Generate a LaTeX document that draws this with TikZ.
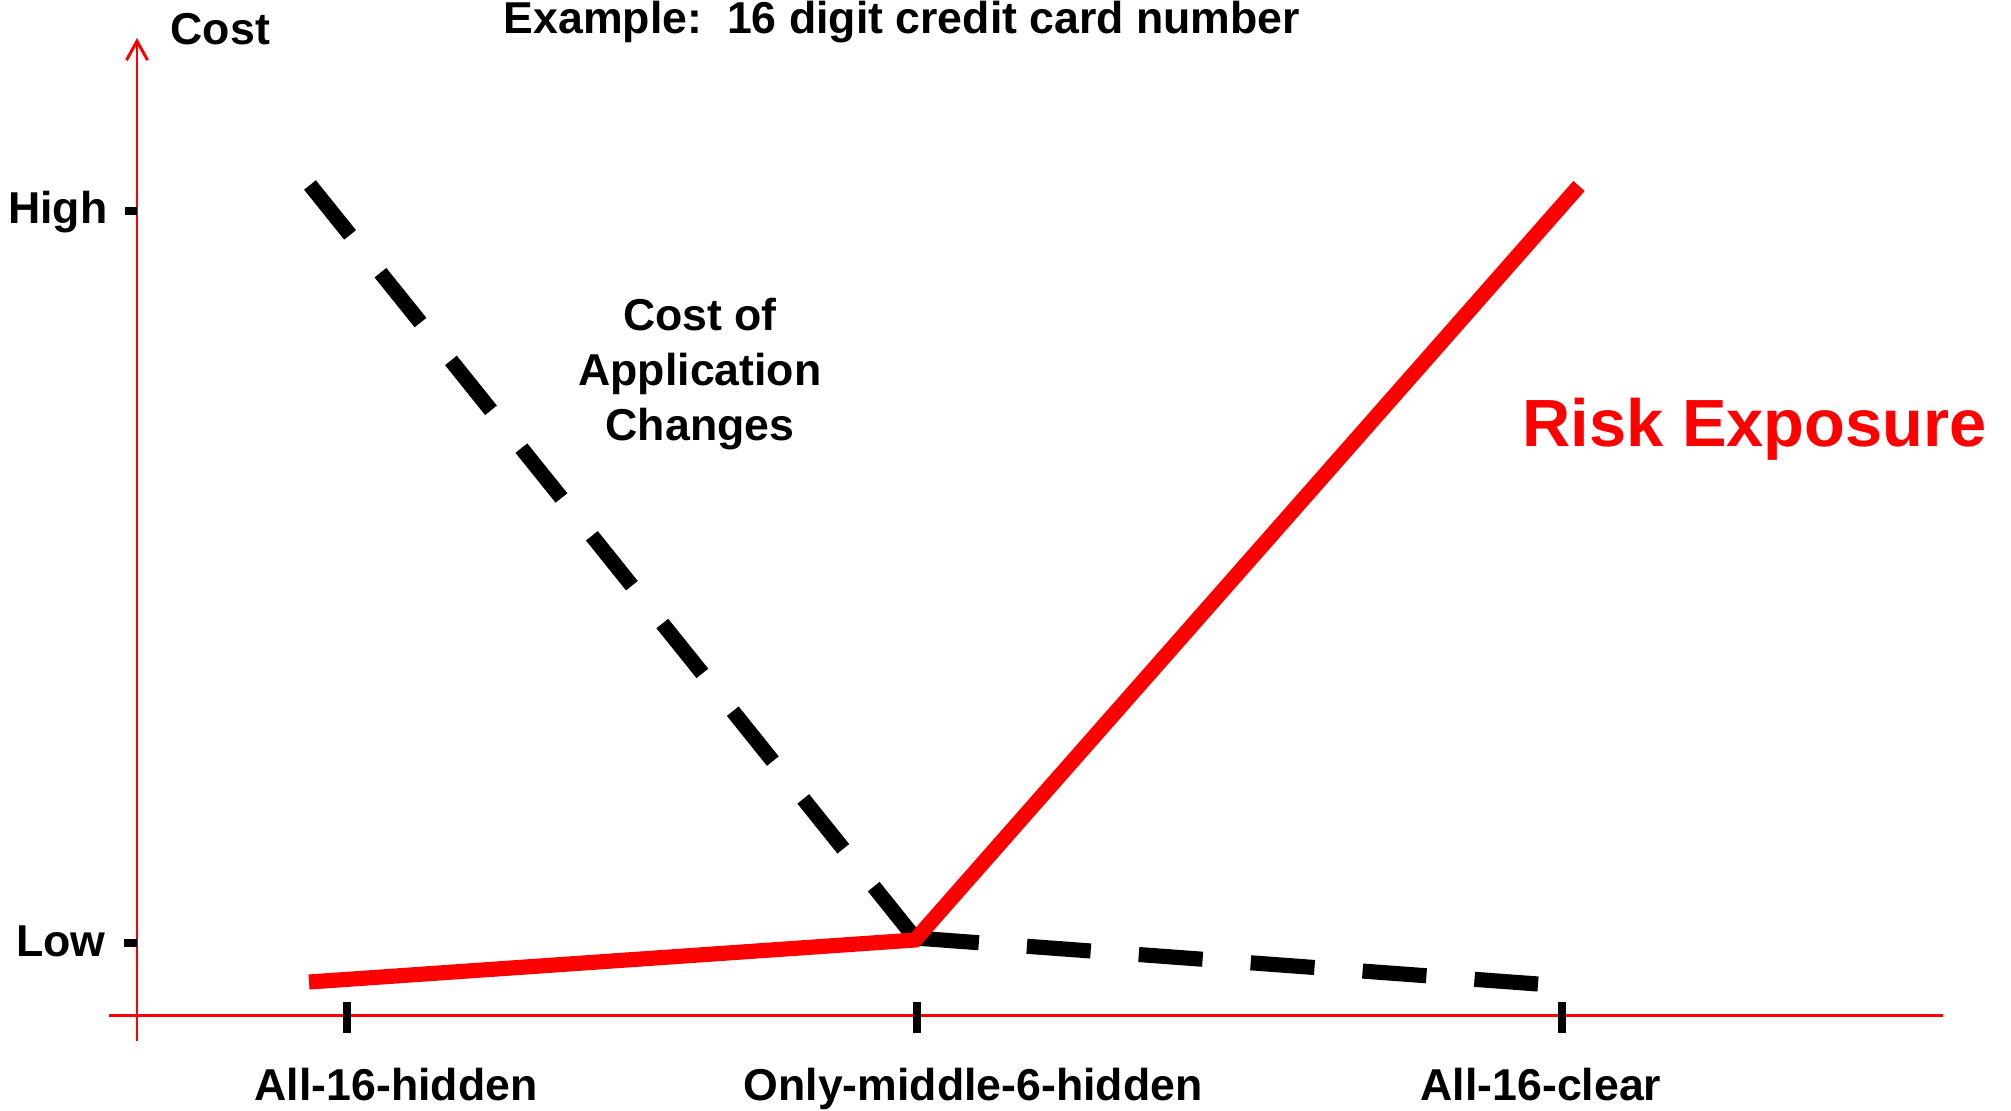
\documentclass[tikz,border=0pt]{standalone}
\usepackage{fontspec}
\setmainfont{Liberation Sans}
\usetikzlibrary{arrows.meta}
\begin{document}
\begin{tikzpicture}[font=\bfseries\fontsize{12.7}{15.6}\selectfont, line join=miter, >={Straight Barb[length=1.9mm,width=2.1mm]},
	axisline/.style={red, line width=0.85pt},
	tickmark/.style={line width=2.1pt},
	costline/.style={line width=4.3pt, dash pattern=on 6.4mm off 4.85mm},
	riskline/.style={red, line width=4.3pt}]
	\useasboundingbox (0,0) rectangle (20.11,11.10);
	% axes
	\coordinate (ybot) at (1.37,0.69);
	\coordinate (ytop) at (1.37,10.72);
	\coordinate (xleft) at (1.09,0.95);
	\coordinate (xright) at (19.43,0.95);
	\draw[axisline,->] (ybot)--(ytop);
	\draw[axisline] (xleft)--(xright);
	% ticks
	\draw[tickmark] (1.25,8.99)--(1.37,8.99);
	\draw[tickmark] (1.24,1.67)--(1.37,1.67);
	\foreach \x/\n in {3.47/hid,9.17/mid,15.62/clr}
		\draw[tickmark] (\x,0.77) coordinate (t\n) -- (\x,1.08);
	% labels
	\node[anchor=base east, inner sep=0pt] (high) at (1.08,8.87) {High};
	\node[anchor=base east, inner sep=0pt] (low) at (1.06,1.54) {Low};
	\node[anchor=base west, inner sep=0pt] (cost) at (1.70,10.66) {Cost};
	\node[anchor=base, inner sep=0pt] (title) at (9.02,10.77) {Example:\ \ 16 digit credit card number};
	\node[anchor=base, inner sep=0pt] (lhid) at (3.96,0.10) {All-16-hidden};
	\node[anchor=base, inner sep=0pt] (lmid) at (9.73,0.10) {Only-middle-6-hidden};
	\node[anchor=base, inner sep=0pt] (lclr) at (15.41,0.10) {All-16-clear};
	\node[anchor=base, inner sep=0pt, align=center] (appl) at (7.00,6.70) {Cost of\\Application\\Changes};
	\node[anchor=base west, inner sep=0pt, red, font=\bfseries\fontsize{19}{23}\selectfont] (risk) at (15.22,6.64) {Risk Exposure};
	% curves
	\coordinate (c1) at (3.10,9.25);
	\coordinate (c2) at (9.15,1.72);
	\coordinate (c3) at (15.38,1.26);
	\coordinate (r1) at (3.09,1.28);
	\coordinate (r2) at (9.15,1.70);
	\coordinate (r3) at (15.79,9.24);
	\draw[costline] (c1)--(c2);
	\draw[costline, dash pattern=on 6.4mm off 4.82mm] (c2)--(c3);
	\draw[riskline] (r1)--(r2)--(r3);
\end{tikzpicture}
\end{document}
